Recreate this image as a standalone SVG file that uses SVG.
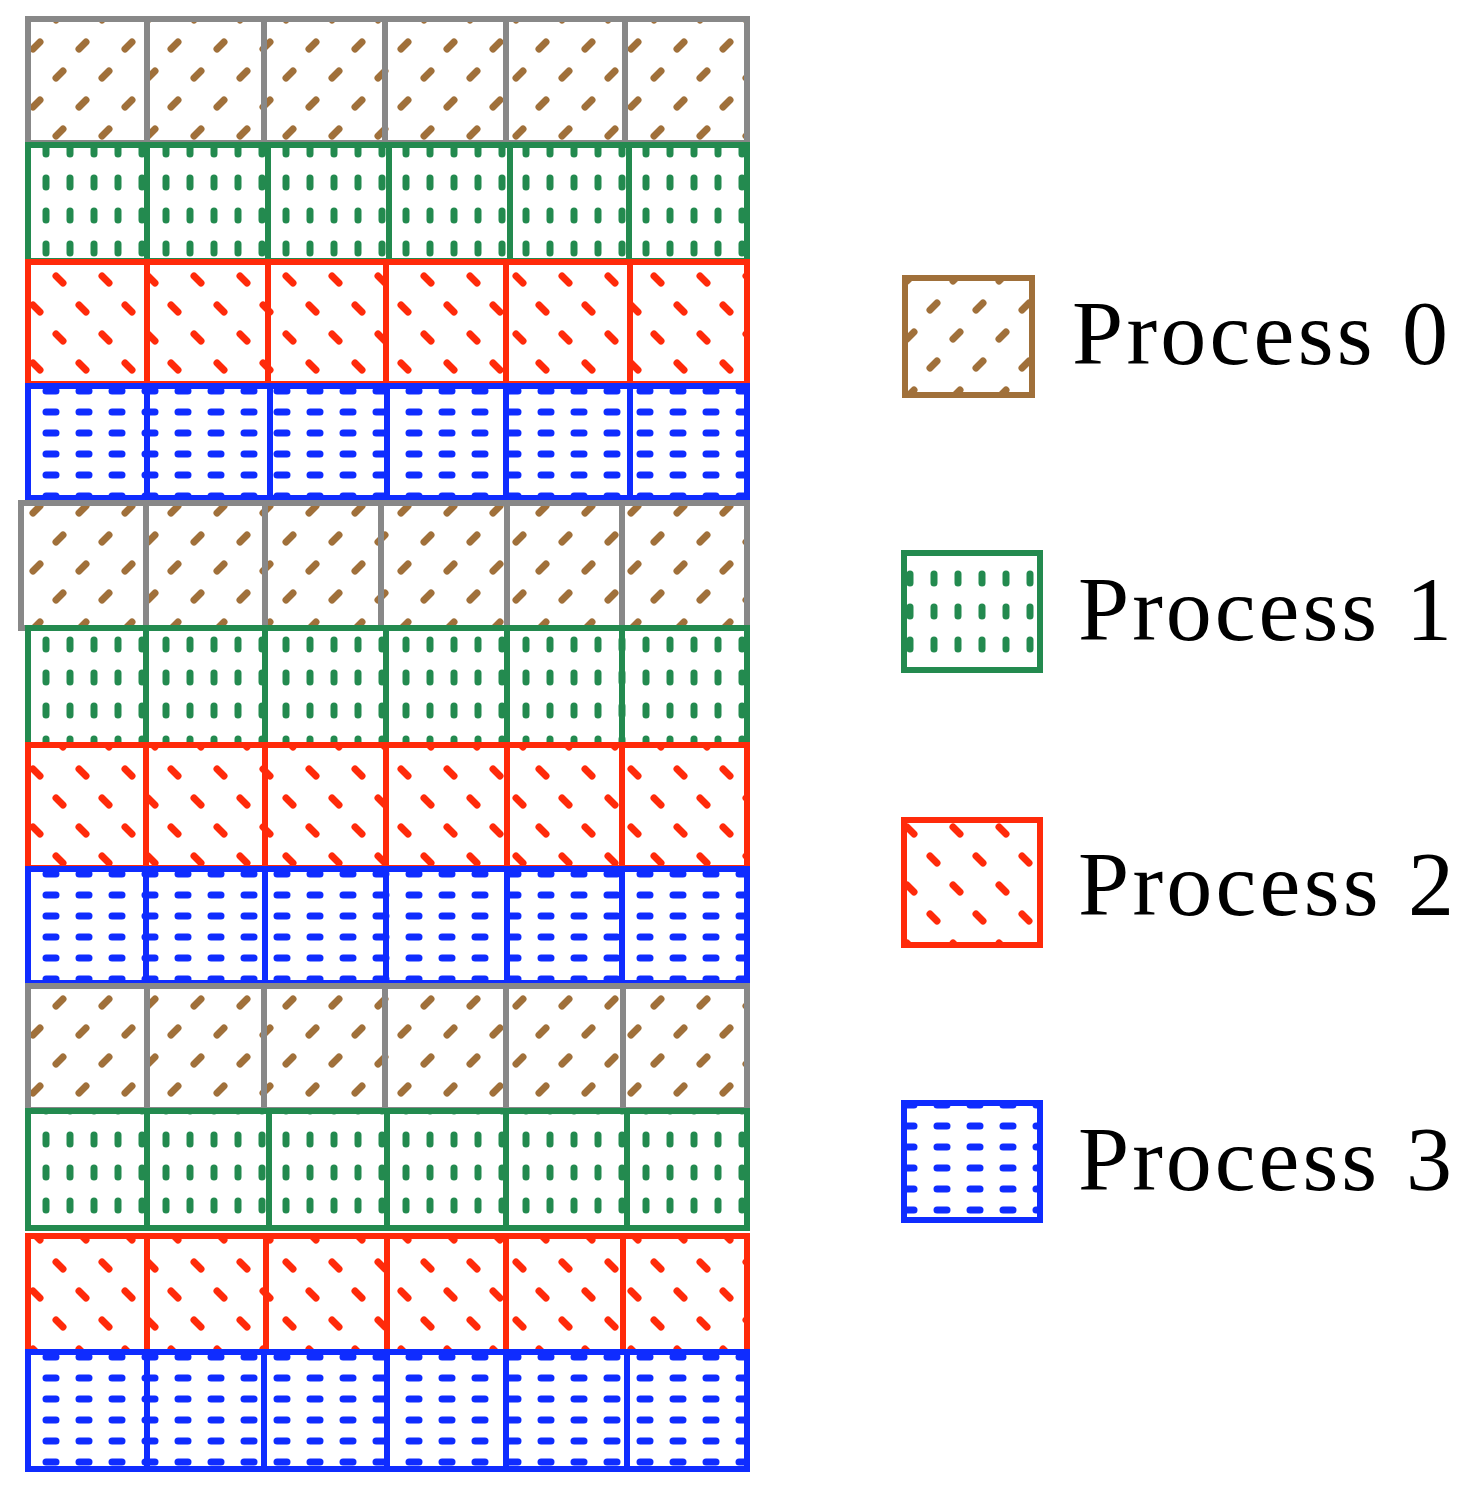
<svg xmlns="http://www.w3.org/2000/svg" width="1479" height="1497" viewBox="0 0 1479 1497">
<defs>
<pattern id="p0" patternUnits="userSpaceOnUse" width="46" height="58" x="4" y="4"><g stroke="#a0703a" stroke-width="7" stroke-linecap="round"><line x1="6" y1="16" x2="13" y2="9"/><line x1="29" y1="45" x2="36" y2="38"/></g></pattern>
<pattern id="p1" patternUnits="userSpaceOnUse" width="24" height="33" x="12" y="8"><g stroke="#238a4f" stroke-width="7" stroke-linecap="round"><line x1="10" y1="5" x2="10" y2="14"/></g></pattern>
<pattern id="p2" patternUnits="userSpaceOnUse" width="46" height="58" x="4" y="6"><g stroke="#ff2a0a" stroke-width="7" stroke-linecap="round"><line x1="6" y1="38" x2="13" y2="45"/><line x1="29" y1="9" x2="36" y2="16"/></g></pattern>
<pattern id="p3" patternUnits="userSpaceOnUse" width="33" height="21" x="2" y="4"><g stroke="#0f2cff" stroke-width="7" stroke-linecap="round"><line x1="11" y1="9" x2="21" y2="9"/></g></pattern>
</defs>
<style>
.c0{fill:url(#p0);stroke:#888;stroke-width:6}
.c1{fill:url(#p1);stroke:#238a4f;stroke-width:6}
.c2{fill:url(#p2);stroke:#ff2a0a;stroke-width:6}
.c3{fill:url(#p3);stroke:#0f2cff;stroke-width:6}
.l0{fill:url(#p0);stroke:#a0703a;stroke-width:6}
.t{font-family:"Liberation Serif",serif;font-size:92px;fill:#000}
</style>
<rect width="1479" height="1497" fill="#fff"/>
<g id="grid">
<g id="g1">
<g class="c0"><rect x="28" y="19" width="119" height="124"/><rect x="147" y="19" width="117" height="124"/><rect x="264" y="19" width="121" height="124"/><rect x="385" y="19" width="121" height="124"/><rect x="506" y="19" width="119" height="124"/><rect x="625" y="19" width="122" height="124"/></g>
<g class="c1"><rect x="28" y="145" width="119" height="116"/><rect x="147" y="145" width="121" height="116"/><rect x="268" y="145" width="121" height="116"/><rect x="389" y="145" width="121" height="116"/><rect x="510" y="145" width="119" height="116"/><rect x="629" y="145" width="118" height="116"/></g>
<g class="c2"><rect x="28" y="262" width="119" height="122"/><rect x="147" y="262" width="121" height="122"/><rect x="268" y="262" width="118" height="122"/><rect x="386" y="262" width="120" height="122"/><rect x="506" y="262" width="124" height="122"/><rect x="630" y="262" width="117" height="122"/></g>
<g class="c3"><rect x="28" y="386" width="119" height="112"/><rect x="147" y="386" width="123" height="112"/><rect x="270" y="386" width="117" height="112"/><rect x="387" y="386" width="119" height="112"/><rect x="506" y="386" width="124" height="112"/><rect x="630" y="386" width="117" height="112"/></g>
</g>
<g id="g2">
<g class="c0"><rect x="21" y="503" width="125" height="125"/><rect x="146" y="503" width="119" height="125"/><rect x="265" y="503" width="116" height="125"/><rect x="381" y="503" width="126" height="125"/><rect x="507" y="503" width="115" height="125"/><rect x="622" y="503" width="125" height="125"/></g>
<g class="c1"><rect x="28" y="628" width="118" height="117"/><rect x="146" y="628" width="119" height="117"/><rect x="265" y="628" width="121" height="117"/><rect x="386" y="628" width="121" height="117"/><rect x="507" y="628" width="115" height="117"/><rect x="622" y="628" width="125" height="117"/></g>
<g class="c2"><rect x="28" y="745" width="118" height="123"/><rect x="146" y="745" width="119" height="123"/><rect x="265" y="745" width="121" height="123"/><rect x="386" y="745" width="121" height="123"/><rect x="507" y="745" width="115" height="123"/><rect x="622" y="745" width="125" height="123"/></g>
<g class="c3"><rect x="28" y="869" width="118" height="114"/><rect x="146" y="869" width="119" height="114"/><rect x="265" y="869" width="121" height="114"/><rect x="386" y="869" width="121" height="114"/><rect x="507" y="869" width="115" height="114"/><rect x="622" y="869" width="125" height="114"/></g>
</g>
<g id="g3">
<g class="c0"><rect x="28" y="986" width="119" height="124"/><rect x="147" y="986" width="117" height="124"/><rect x="264" y="986" width="121" height="124"/><rect x="385" y="986" width="121" height="124"/><rect x="506" y="986" width="117" height="124"/><rect x="623" y="986" width="124" height="124"/></g>
<g class="c1"><rect x="28" y="1111" width="119" height="117"/><rect x="147" y="1111" width="122" height="117"/><rect x="269" y="1111" width="118" height="117"/><rect x="387" y="1111" width="119" height="117"/><rect x="506" y="1111" width="121" height="117"/><rect x="627" y="1111" width="120" height="117"/></g>
<g class="c2"><rect x="28" y="1236" width="119" height="116"/><rect x="147" y="1236" width="119" height="116"/><rect x="266" y="1236" width="121" height="116"/><rect x="387" y="1236" width="119" height="116"/><rect x="506" y="1236" width="117" height="116"/><rect x="623" y="1236" width="124" height="116"/></g>
<g class="c3"><rect x="28" y="1352" width="119" height="117"/><rect x="147" y="1352" width="117" height="117"/><rect x="264" y="1352" width="123" height="117"/><rect x="387" y="1352" width="119" height="117"/><rect x="506" y="1352" width="121" height="117"/><rect x="627" y="1352" width="120" height="117"/></g>
</g>
</g>
<g id="legend0"><rect class="l0" x="905" y="278" width="127" height="117"/><text class="t" x="1072" y="364" textLength="376" lengthAdjust="spacing">Process 0</text></g>
<g id="legend1"><rect class="c1" x="904" y="553" width="136" height="117"/><text class="t" x="1078" y="640" textLength="374" lengthAdjust="spacing">Process 1</text></g>
<g id="legend2"><rect class="c2" x="904" y="820" width="136" height="125"/><text class="t" x="1078" y="915" textLength="376" lengthAdjust="spacing">Process 2</text></g>
<g id="legend3"><rect class="c3" x="904" y="1103" width="136" height="117"/><text class="t" x="1078" y="1190" textLength="374" lengthAdjust="spacing">Process 3</text></g>
<g id="connectors"/>
</svg>
